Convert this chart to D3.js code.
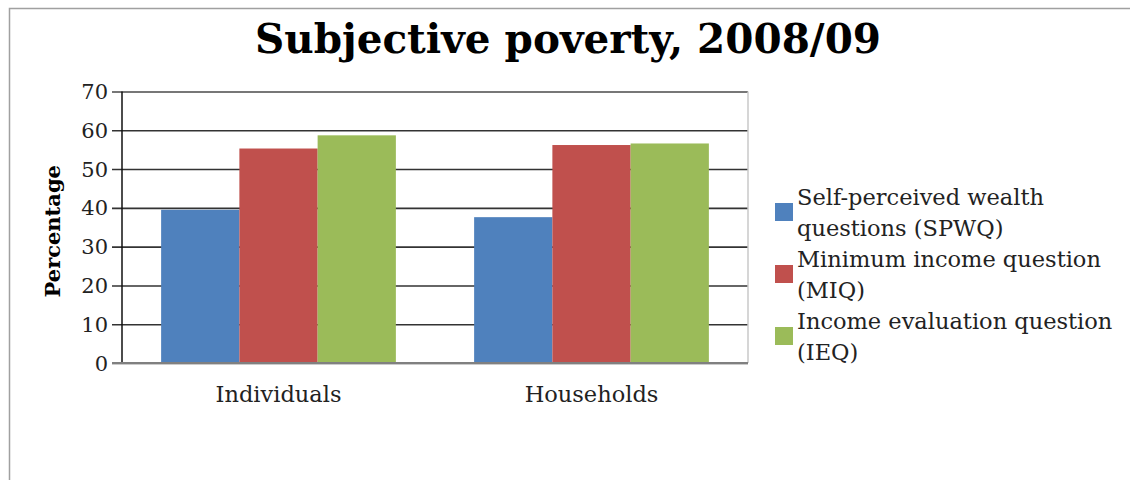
<!DOCTYPE html>
<html>
<head>
<meta charset="utf-8">
<script src="https://cdn.jsdelivr.net/npm/d3@7"></script>
<style>
  html, body { margin: 0; padding: 0; background: #fff; }
  svg { display: block; }
</style>
</head>
<body>
<div id="chart"></div>
<script>
// ── Data ────────────────────────────────────────────────────────────────
const categories = ["Individuals", "Households"];
const seriesNames = ["SPWQ", "MIQ", "IEQ"];
const legendLines = [
  ["Self-perceived wealth", "questions (SPWQ)"],
  ["Minimum income question", "(MIQ)"],
  ["Income evaluation question", "(IEQ)"]
];
const spwqValues = [39.5, 37.6];
const miqValues  = [55.3, 56.2];
const ieqValues  = [58.7, 56.6];
const yTicks = [0, 10, 20, 30, 40, 50, 60, 70];

// ── Palette ─────────────────────────────────────────────────────────────
const COLORS = ["#4f81bd", "#c0504d", "#9bbb59"];
const FONT = "'DejaVu Serif', serif";
const TEXT_C = "#222";

const W = 1130, H = 480;
const plot = { left: 122, right: 748, top: 91.5, bottom: 363 };

const svg = d3.select("#chart").append("svg")
  .attr("width", W).attr("height", H);

// outer frame (top + left only visible)
svg.append("path")
  .attr("d", `M9.5,${H} L9.5,8.5 L${W},8.5`)
  .attr("fill", "none").attr("stroke", "#a0a0a0").attr("stroke-width", 1.5);

// Title
svg.append("text")
  .attr("x", 568).attr("y", 53)
  .attr("text-anchor", "middle")
  .style("font-family", FONT).style("font-weight", "bold").style("font-size", "40.5px")
  .attr("fill", "#000")
  .text("Subjective poverty, 2008/09");

// ── Scales ──────────────────────────────────────────────────────────────
const x0 = d3.scaleBand().domain(categories).range([plot.left, plot.right]);
const x1 = d3.scaleBand().domain(seriesNames).range([0, x0.bandwidth()]).paddingOuter(0.5).paddingInner(0);
const y = d3.scaleLinear().domain([0, 70]).range([plot.bottom, plot.top]);

// Gridlines + y ticks
svg.append("g")
  .attr("transform", `translate(${plot.left},0)`)
  .call(d3.axisLeft(y).tickValues(yTicks).tickSize(-(plot.right - plot.left)).tickFormat(""))
  .call(g => g.select(".domain").remove())
  .selectAll("line")
  .attr("x1", -10)
  .attr("stroke", d => d === 70 ? "#777" : "#333")
  .attr("stroke-width", d => d === 70 ? 2 : 1.6);

// y tick labels
svg.append("g").selectAll("text").data(yTicks).enter().append("text")
  .attr("x", 108).attr("y", d => y(d)).attr("dy", "0.36em")
  .attr("text-anchor", "end")
  .style("font-family", FONT).style("font-size", "21px")
  .attr("fill", TEXT_C)
  .text(d => d);

// Bars
const seriesData = [spwqValues, miqValues, ieqValues];
seriesData.forEach((vals, si) => {
  svg.append("g").selectAll("rect").data(vals).enter().append("rect")
    .attr("x", (d, i) => x0(categories[i]) + x1(seriesNames[si]))
    .attr("y", d => y(d))
    .attr("width", x1.bandwidth())
    .attr("height", d => y(0) - y(d))
    .attr("fill", COLORS[si]);
});

// right plot border
svg.append("line")
  .attr("x1", plot.right).attr("x2", plot.right)
  .attr("y1", plot.top).attr("y2", plot.bottom)
  .attr("stroke", "#c8c8c8").attr("stroke-width", 1.5);

// y axis line
svg.append("line")
  .attr("x1", plot.left).attr("x2", plot.left)
  .attr("y1", plot.top).attr("y2", plot.bottom)
  .attr("stroke", "#111").attr("stroke-width", 1.5);

// x axis line
svg.append("line")
  .attr("x1", plot.left - 10).attr("x2", plot.right)
  .attr("y1", plot.bottom).attr("y2", plot.bottom)
  .attr("stroke", "#808080").attr("stroke-width", 2);

// x labels
svg.append("g").selectAll("text").data(categories).enter().append("text")
  .attr("x", d => x0(d) + x0.bandwidth() / 2)
  .attr("y", 402)
  .attr("text-anchor", "middle")
  .style("font-family", FONT).style("font-size", "22.5px")
  .attr("fill", TEXT_C)
  .text(d => d);

// y axis title
svg.append("text")
  .attr("transform", `translate(60,${(plot.top + plot.bottom) / 2 + 4}) rotate(-90)`)
  .attr("text-anchor", "middle")
  .style("font-family", FONT).style("font-weight", "bold").style("font-size", "21px")
  .attr("fill", "#000")
  .text("Percentage");

// ── Legend ──────────────────────────────────────────────────────────────
const legend = svg.append("g");
legendLines.forEach((lines, i) => {
  const base = 205 + i * 62;
  legend.append("rect")
    .attr("x", 775).attr("y", base + 7 - 9)
    .attr("width", 18).attr("height", 18)
    .attr("fill", COLORS[i]);
  lines.forEach((t, j) => {
    legend.append("text")
      .attr("x", 797).attr("y", base + j * 31)
      .style("font-family", FONT).style("font-size", "22.5px")
      .attr("fill", TEXT_C)
      .text(t);
  });
});
</script>
</body>
</html>
